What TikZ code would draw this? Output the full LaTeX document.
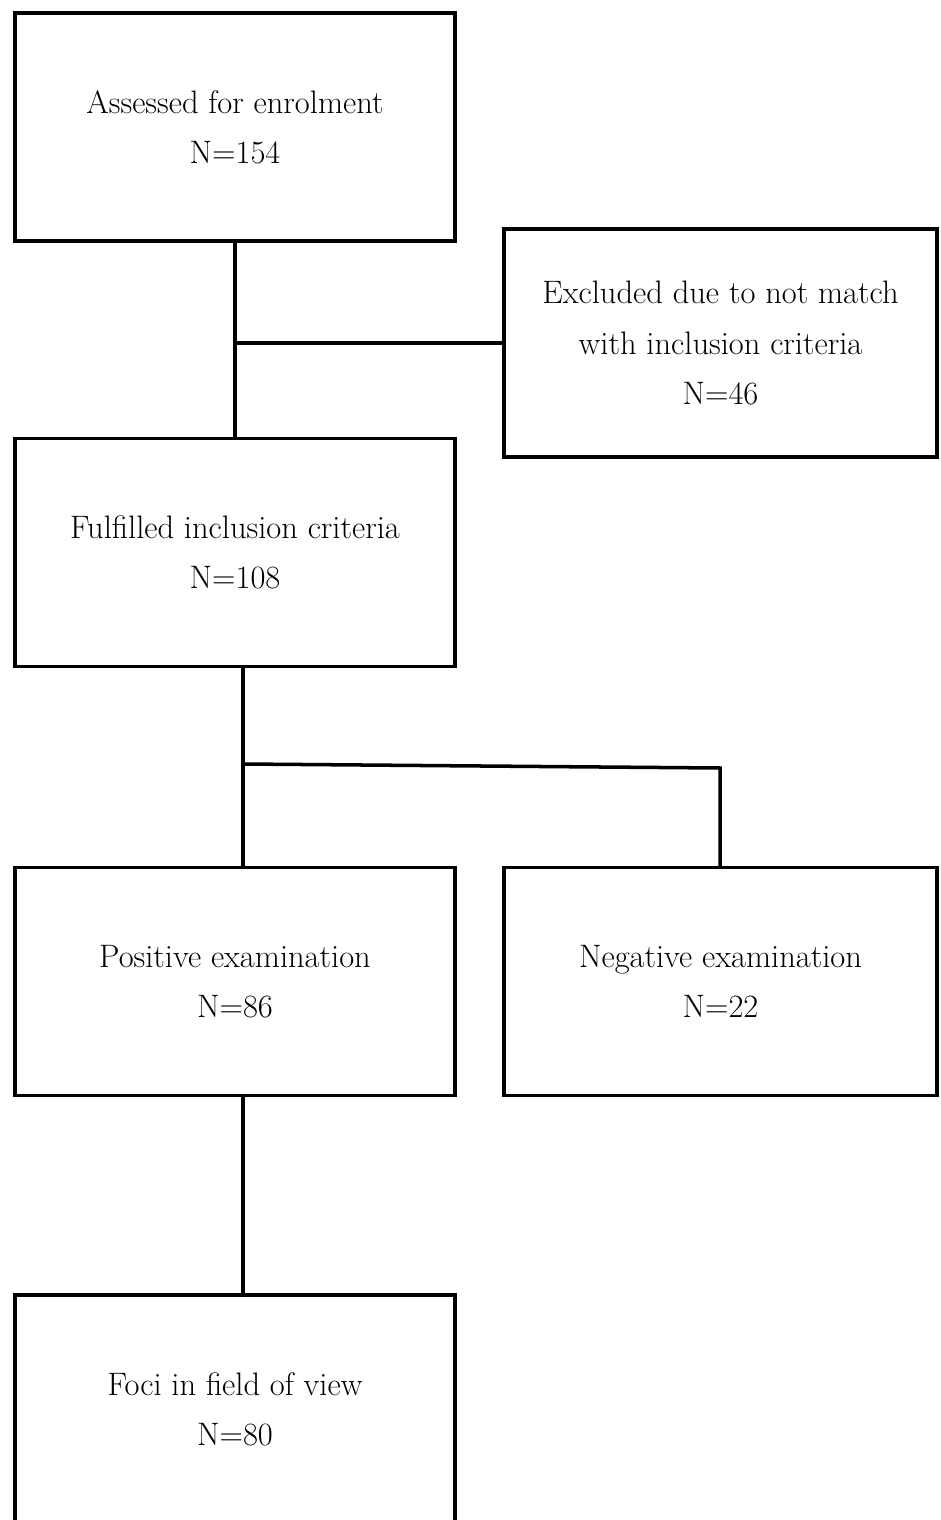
\documentclass[tikz,border=0pt]{standalone}
\usepackage{tikz}
\usetikzlibrary{positioning}

\begin{document}
\begin{tikzpicture}[x=0.02cm, y=-0.02cm, line width=2pt,
  flowbox/.style={draw, rectangle, align=center, inner sep=0pt,
    minimum width=8.8cm, minimum height=4.56cm,
    font=\fontsize{18.5}{28.5}\selectfont}]

\useasboundingbox (0,0) rectangle (940,1520);

% Boxes of the flow chart
\node [flowbox] (assessed) at (235, 127) {Assessed for enrolment\\N=154};
\node [flowbox, minimum width=8.66cm] (excluded) at (720.5, 343) {Excluded due to not match\\with inclusion criteria\\N=46};
\node [flowbox] (fulfilled) at (235, 552.5) {Fulfilled inclusion criteria\\N=108};
\node [flowbox] (positive) at (235, 981.5) {Positive examination\\N=86};
\node [flowbox, minimum width=8.66cm] (negative) at (720.5, 981.5) {Negative examination\\N=22};
\node [flowbox] (foci) at (235, 1409) {Foci in field of view\\N=80};

% Junction points
\coordinate (exjoin) at (235, 343);
\coordinate (split) at (243, 764);
\coordinate (corner) at (720, 768);

% Connectors
\draw (assessed.south) -- (fulfilled.north);
\draw (exjoin) -- (excluded.west);
\draw (fulfilled.south -| split) -- (positive.north -| split);
\draw (split) -- (corner) -- (negative.north -| corner);
\draw (positive.south -| split) -- (foci.north -| split);

\end{tikzpicture}
\end{document}
